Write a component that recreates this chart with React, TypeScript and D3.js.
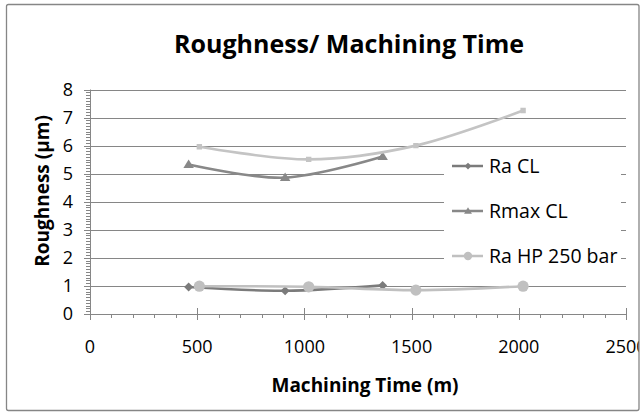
import React from 'react'
import * as d3 from 'd3'

// machining time (m) of each measurement
const clTime = [460, 910, 1365]
const hpTime = [510, 1020, 1520, 2020]

// roughness values (µm)
const raCL = [0.96, 0.83, 1.02]
const rmaxCL = [5.33, 4.86, 5.61]
const raHP = [0.99, 0.97, 0.85, 0.99]
const rmaxHP = [5.96, 5.51, 6.0, 7.25]

const xTicks = [0, 500, 1000, 1500, 2000, 2500]
const yTicks = [0, 1, 2, 3, 4, 5, 6, 7, 8]

const legendNames = ['Ra CL', 'Rmax CL', 'Ra HP 250 bar']

const FONT = "'Open Sans', 'Noto Sans', sans-serif"
const AXIS = '#868686'

type Marker = 'diamond' | 'triangle' | 'circle' | 'square'

const series: { name: string; xs: number[]; ys: number[]; color: string; marker: Marker; legend: boolean }[] = [
  { name: legendNames[0], xs: clTime, ys: raCL, color: '#7b7b7b', marker: 'diamond', legend: true },
  { name: legendNames[1], xs: clTime, ys: rmaxCL, color: '#888888', marker: 'triangle', legend: true },
  { name: legendNames[2], xs: hpTime, ys: raHP, color: '#c0c0c0', marker: 'circle', legend: true },
  { name: 'Rmax HP 250 bar', xs: hpTime, ys: rmaxHP, color: '#c4c4c4', marker: 'square', legend: false },
]

function markerPath(m: Marker, s: number) {
  if (m === 'diamond') return `M0,${-s}L${s},0L0,${s}L${-s},0Z`
  if (m === 'triangle') return `M0,${-s}L${s * 1.05},${s * 0.7}L${-s * 1.05},${s * 0.7}Z`
  if (m === 'square') return `M${-s * 0.6},${-s * 0.6}H${s * 0.6}V${s * 0.6}H${-s * 0.6}Z`
  return d3.symbol(d3.symbolCircle, Math.PI * s * s)() as string
}

const markerSize: Record<Marker, number> = { diamond: 4.5, triangle: 5, circle: 5.6, square: 4.5 }

export default function App() {
  const width = 642
  const height = 420
  const x = d3.scaleLinear().domain([0, 2500]).range([90, 626])
  const y = d3.scaleLinear().domain([0, 8]).range([314, 89.5])

  const line = d3.line<[number, number]>()
    .x(d => x(d[0]))
    .y(d => y(d[1]))
    .curve(d3.curveCardinal.tension(0))

  const xMinor = d3.range(0, 2501, 100).filter(v => v % 500 !== 0)
  const yMinor = d3.range(0, 80).map(v => v / 10).filter(v => Math.round(v * 10) % 10 !== 0)

  const legendX = 452
  const legendY = [166, 211, 256]

  return (
    <svg width={width} height={height} style={{ position: 'absolute', left: 0, top: 0, background: '#fff' }} fontFamily={FONT}>
      <defs>
        <clipPath id="chartArea">
          <rect x={6} y={4.5} width={633} height={406} />
        </clipPath>
      </defs>
      <g clipPath="url(#chartArea)">
        <text x={349} y={53} textAnchor="middle" fontSize={25} fontWeight="bold" fill="#000">
          Roughness/ Machining Time
        </text>

        {/* horizontal gridlines */}
        {yTicks.filter(t => t > 0).map(t => (
          <line key={'g' + t} x1={x(0)} x2={x(2500)} y1={Math.round(y(t)) + 0.5} y2={Math.round(y(t)) + 0.5} stroke={AXIS} strokeWidth={1} />
        ))}

        {/* y axis */}
        <line x1={x(0) + 0.5} x2={x(0) + 0.5} y1={y(8)} y2={y(0)} stroke={AXIS} />
        {yMinor.map(t => (
          <line key={'ym' + t} x1={x(0) - 4} x2={x(0)} y1={Math.round(y(t)) + 0.5} y2={Math.round(y(t)) + 0.5} stroke={AXIS} />
        ))}
        {yTicks.map(t => (
          <g key={'yt' + t}>
            <line x1={x(0) - 6} x2={x(0) + 5} y1={Math.round(y(t)) + 0.5} y2={Math.round(y(t)) + 0.5} stroke={AXIS} />
            <text x={73} y={y(t)} dy="0.35em" textAnchor="end" fontSize={18} fill="#000">{t}</text>
          </g>
        ))}

        {/* x axis */}
        <line x1={x(0)} x2={x(2500)} y1={Math.round(y(0)) + 0.5} y2={Math.round(y(0)) + 0.5} stroke={AXIS} />
        {xMinor.map(t => (
          <line key={'xm' + t} x1={Math.round(x(t)) + 0.5} x2={Math.round(x(t)) + 0.5} y1={y(0)} y2={y(0) + 4} stroke={AXIS} />
        ))}
        {xTicks.map(t => (
          <g key={'xt' + t}>
            <line x1={Math.round(x(t)) + 0.5} x2={Math.round(x(t)) + 0.5} y1={y(0) - 6} y2={y(0) + 6} stroke={AXIS} />
            <text x={x(t)} y={353} textAnchor="middle" fontSize={18} fill="#000">{t}</text>
          </g>
        ))}

        <text x={365} y={392} textAnchor="middle" fontSize={19} fontWeight="bold" fill="#000">
          Machining Time (m)
        </text>
        <text transform={`translate(49,191) rotate(-90)`} textAnchor="middle" fontSize={19} fontWeight="bold" fill="#000">
          Roughness (µm)
        </text>

        {/* series */}
        {series.map(s => {
          const pts = s.xs.map((v, i) => [v, s.ys[i]] as [number, number])
          return (
            <g key={s.name}>
              <path d={line(pts) ?? ''} fill="none" stroke={s.color} strokeWidth={2.6} strokeLinecap="round" />
              {pts.map((p, i) => (
                <path key={i} d={markerPath(s.marker, markerSize[s.marker])} transform={`translate(${x(p[0])},${y(p[1])})`} fill={s.color} />
              ))}
            </g>
          )
        })}

        {/* legend */}
        <rect x={444} y={149} width={177} height={122} fill="#fff" />
        {series.filter(s => s.legend).map((s, i) => (
          <g key={'lg' + s.name} transform={`translate(${legendX},${legendY[i]})`}>
            <line x1={0} x2={31} y1={0} y2={0} stroke={s.color} strokeWidth={2.4} />
            <path d={markerPath(s.marker, markerSize[s.marker] * 0.75)} transform="translate(16,0)" fill={s.color} />
            <text x={37} y={0} dy="0.35em" fontSize={19.5} fill="#000">{s.name}</text>
          </g>
        ))}
      </g>
      <rect x={6.5} y={4.5} width={632.5} height={406} rx={2} fill="none" stroke={AXIS} strokeWidth={1.3} />
    </svg>
  )
}
